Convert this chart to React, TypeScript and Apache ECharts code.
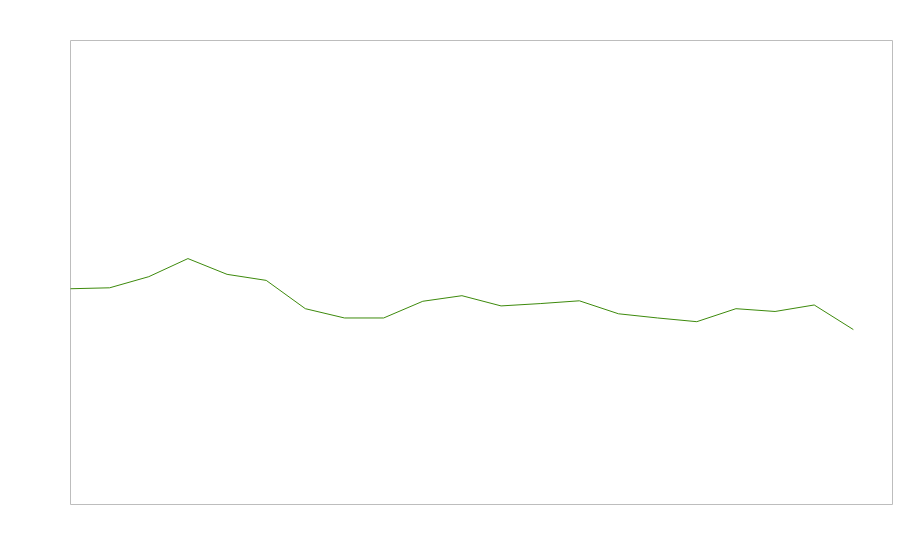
import React, { useEffect, useRef } from "react";
import * as echarts from "echarts";

const categories: string[] = [
  "1", "2", "3", "4", "5", "6", "7", "8", "9", "10", "11",
  "12", "13", "14", "15", "16", "17", "18", "19", "20", "21", "22",
];

const seriesValues: number[] = [
  46.5, 46.7, 49.1, 53.0, 49.6, 48.3, 42.2, 40.2, 40.2, 43.8, 45.0,
  42.8, 43.3, 43.9, 41.1, 40.2, 39.4, 42.2, 41.6, 43.0, 37.7,
];

export default function App() {
  const ref = useRef<HTMLDivElement>(null);
  useEffect(() => {
    document.body.style.margin = "0";
    if (!ref.current) return;
    const chart = echarts.init(ref.current, null, { renderer: "svg" });
    chart.setOption({
      animation: false,
      backgroundColor: "#ffffff",
      grid: {
        left: 70.5,
        right: 7.5,
        top: 40.5,
        bottom: 55.5,
        show: true,
        borderColor: "#bdbdbd",
        borderWidth: 1,
        backgroundColor: "transparent",
      },
      xAxis: {
        type: "category",
        data: categories,
        boundaryGap: false,
        axisLine: { show: false },
        axisTick: { show: false },
        axisLabel: { show: false },
        splitLine: { show: false },
      },
      yAxis: {
        type: "value",
        min: 0,
        max: 100,
        axisLine: { show: false },
        axisTick: { show: false },
        axisLabel: { show: false },
        splitLine: { show: false },
      },
      series: [
        {
          type: "line",
          data: seriesValues,
          showSymbol: false,
          symbol: "none",
          lineStyle: { color: "#3d8a0c", width: 1 },
          itemStyle: { color: "#3d8a0c" },
        },
      ],
    });
    return () => chart.dispose();
  }, []);
  return <div ref={ref} style={{ width: 900, height: 560 }} />;
}
